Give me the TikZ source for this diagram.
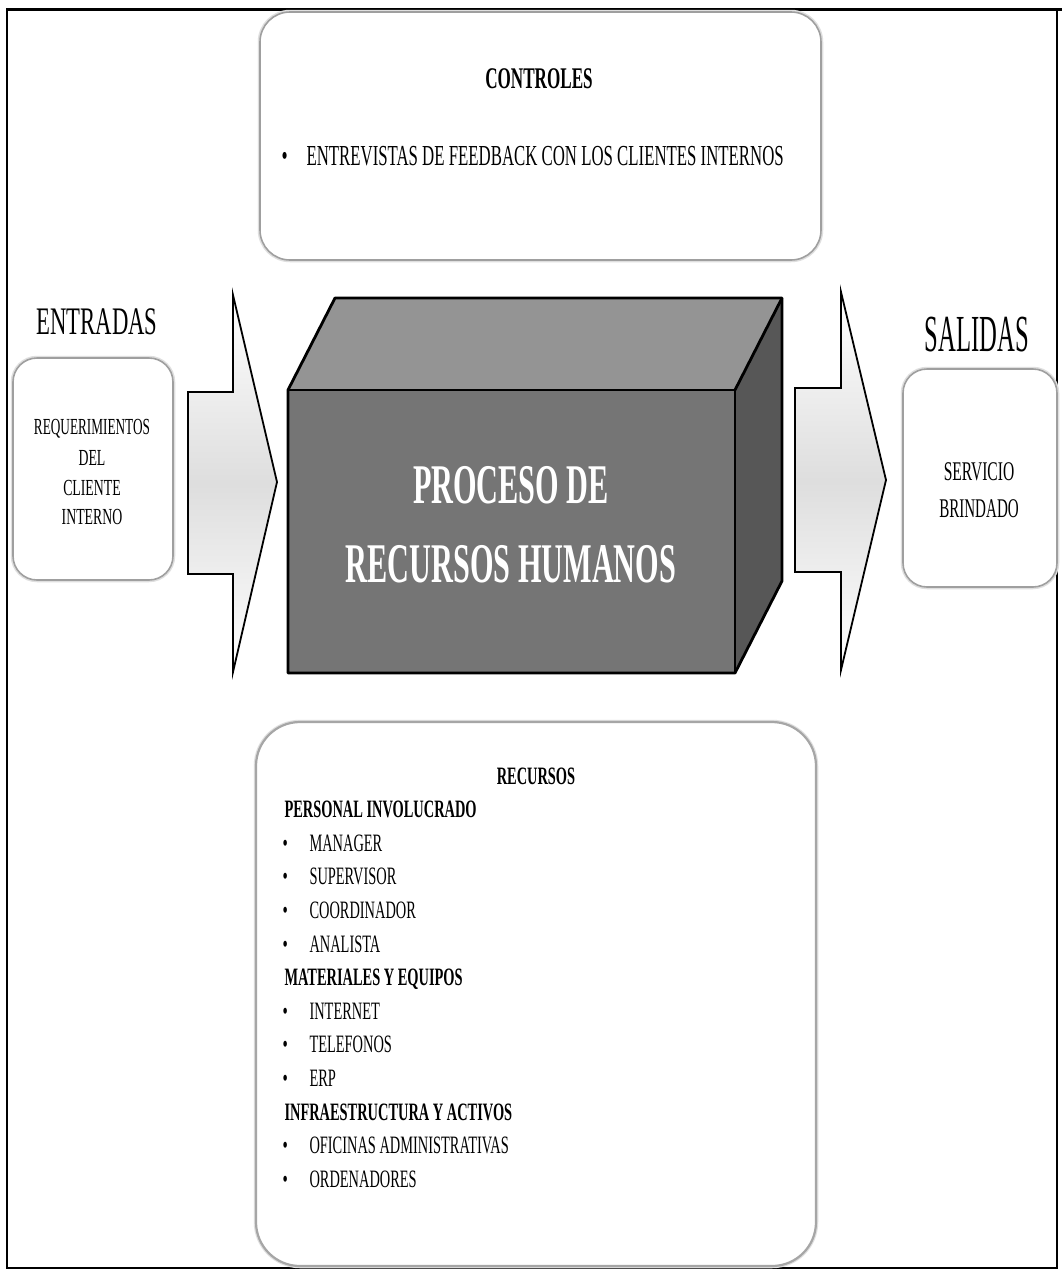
\documentclass[tikz,border=0pt]{standalone}
\usepackage{fontspec}
\setmainfont{Liberation Serif}[FakeStretch=0.6]
\newcommand{\fsz}[1]{\fontsize{#1}{#1}\selectfont}
\begin{document}
\begin{tikzpicture}[x=1pt,y=-1pt,
  rbox/.style={draw=gray!75, line width=1.6pt, fill=white, rectangle,
    rounded corners=26pt, inner sep=0pt,
    preaction={draw=gray!25, line width=4.5pt}},
  frameline/.style={draw=black, line width=1.5pt},
  blockarrow/.style={draw=black, line width=1.8pt, line join=miter,
    top color=white, bottom color=white, middle color=gray!26},
  edge/.style={draw=black, line width=2.8pt, line join=round},
  head/.style={font=\fsz{25}\bfseries, anchor=base west},
  item/.style={font=\fsz{25}, anchor=base west},
  boxtxt/.style={font=\fsz{23}, anchor=base},
  outtxt/.style={font=\fsz{27}, anchor=base},
  bigword/.style={anchor=base}
]
\useasboundingbox (0,0) rectangle (1062,1275);
\fill[white] (0,0) rectangle (1062,1275);

% outer frame
\draw[frameline] (7,9) rectangle (1057,1268);
\draw[line width=3pt] (7,9) -- (1062,9);

% controls box
\node[rbox, rounded corners=30pt, minimum width=561pt, minimum height=248pt] (ctrl) at (540.5,136) {};
\node[font=\fsz{30}\bfseries, anchor=base] (ctrlT) at (539,88) {\scalebox{0.95}[1]{CONTROLES}};
\node[font=\fsz{29}, anchor=base west] (ctrlI) at (278,165)
  {\makebox[25pt][l]{\textbullet}\scalebox{0.965}[1]{ENTREVISTAS DE FEEDBACK CON LOS CLIENTES INTERNOS}};

% inputs
\node[bigword, font=\fsz{39}] (inT) at (97,334) {\scalebox{0.97}[1]{ENTRADAS}};
\node[rbox, rounded corners=24pt, minimum width=160pt, minimum height=222pt] (inbox) at (93,469) {};
\node[boxtxt] (in1) at (92,434) {\scalebox{0.96}[1]{REQUERIMIENTOS}};
\node[boxtxt] (in2) at (92,465) {DEL};
\node[boxtxt] (in3) at (92,495) {CLIENTE};
\node[boxtxt] (in4) at (92,524) {INTERNO};

% outputs
\node[bigword, font=\fsz{52}] (outT) at (977,351) {\scalebox{0.79}[1]{SALIDAS}};
\node[rbox, rounded corners=24pt, minimum width=154pt, minimum height=218pt] (outbox) at (980,478) {};
\node[outtxt] (out1) at (979,480) {\scalebox{0.96}[1]{SERVICIO}};
\node[outtxt] (out2) at (979,517) {\scalebox{0.93}[1]{BRINDADO}};

% block arrows
\coordinate (la) at (188,392);
\path[blockarrow] (la) -- (233,392) -- (233,295) -- (277,482) -- (233,672)
  -- (233,574) -- (188,574) -- cycle;
\coordinate (ra) at (795,388);
\path[blockarrow] (ra) -- (841,388) -- (841,292) -- (886,480) -- (841,670)
  -- (841,572) -- (795,572) -- cycle;

% process block
\coordinate (fa) at (288,390);
\coordinate (fb) at (735,390);
\coordinate (fc) at (735,673);
\coordinate (fd) at (288,673);
\coordinate (ba) at (335,298);
\coordinate (bb) at (782,298);
\coordinate (bc) at (782,581);
\fill[black!42] (fa) -- (ba) -- (bb) -- (fb) -- cycle;
\fill[black!66] (fb) -- (bb) -- (bc) -- (fc) -- cycle;
\fill[black!54] (fa) -- (fb) -- (fc) -- (fd) -- cycle;
\draw[edge] (fa) -- (ba) -- (bb) -- (bc) -- (fc) -- (fd) -- cycle;
\draw[edge] (fa) -- (fb) -- (fc);
\draw[edge] (fb) -- (bb);
\node[font=\fsz{56}\bfseries, text=white, anchor=base] (p1) at (511,503) {\scalebox{0.9}[1]{PROCESO DE}};
\node[font=\fsz{56}\bfseries, text=white, anchor=base] (p2) at (511,582) {\scalebox{0.9}[1]{RECURSOS HUMANOS}};

% resources box
\node[rbox, rounded corners=44pt, minimum width=560pt, minimum height=544pt,
  draw=gray!70, line width=2.2pt] (res) at (536,994) {};
\node[font=\fsz{25}\bfseries, anchor=base] (resT) at (536,784) {\scalebox{0.96}[1]{RECURSOS}};
\node[head] (h1) at (281,817.6) {\scalebox{0.96}[1]{PERSONAL INVOLUCRADO}};
\node[item] (i1) at (279,851.2) {\makebox[27pt][l]{\textbullet}\scalebox{0.96}[1]{MANAGER}};
\node[item] (i2) at (279,884.8) {\makebox[27pt][l]{\textbullet}\scalebox{0.96}[1]{SUPERVISOR}};
\node[item] (i3) at (279,918.4) {\makebox[27pt][l]{\textbullet}\scalebox{0.96}[1]{COORDINADOR}};
\node[item] (i4) at (279,952) {\makebox[27pt][l]{\textbullet}\scalebox{0.96}[1]{ANALISTA}};
\node[head] (h2) at (281,985.6) {\scalebox{0.96}[1]{MATERIALES Y EQUIPOS}};
\node[item] (i5) at (279,1019.2) {\makebox[27pt][l]{\textbullet}\scalebox{0.96}[1]{INTERNET}};
\node[item] (i6) at (279,1052.8) {\makebox[27pt][l]{\textbullet}\scalebox{0.96}[1]{TELEFONOS}};
\node[item] (i7) at (279,1086.4) {\makebox[27pt][l]{\textbullet}\scalebox{0.96}[1]{ERP}};
\node[head] (h3) at (281,1120) {\scalebox{0.96}[1]{INFRAESTRUCTURA Y ACTIVOS}};
\node[item] (i8) at (279,1153.6) {\makebox[27pt][l]{\textbullet}\scalebox{0.96}[1]{OFICINAS ADMINISTRATIVAS}};
\node[item] (i9) at (279,1187.2) {\makebox[27pt][l]{\textbullet}\scalebox{0.96}[1]{ORDENADORES}};
\end{tikzpicture}
\end{document}
